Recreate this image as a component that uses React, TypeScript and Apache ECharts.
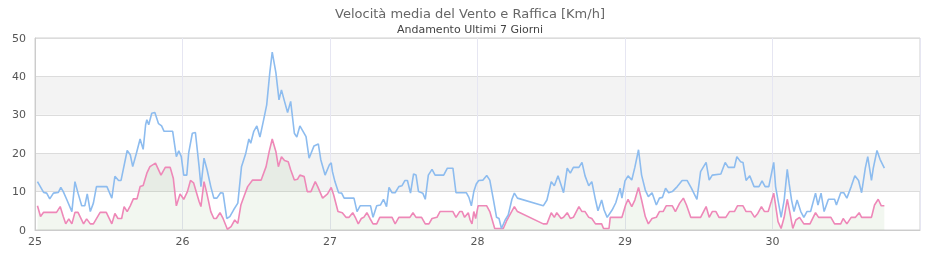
import React, { useEffect, useRef } from "react";
import * as echarts from "echarts";

// Hours elapsed since day 25, 00:00 and values in Km/h
const dayLabels = ["25", "26", "27", "28", "29", "30", "31"];

const gustHours = [
  0.4, 1.4, 1.9, 2.4, 3, 3.8, 4.2, 4.6, 5.2, 6, 6.5, 7, 7.6, 8.1, 8.5, 9, 9.5, 10, 11.7, 12.5, 13, 13.6, 14, 15, 15.5, 15.9, 16.5, 17.1, 17.6, 18, 18.2, 18.5, 19, 19.5, 20.1, 20.6, 21, 22.4, 23, 23.4, 23.8,
  24.2, 24.7, 25, 25.6, 26.1, 26.7, 27, 27.5, 28, 28.6, 29.1, 29.6, 30.2, 30.6, 31.2, 31.7, 32.3, 33, 33.6, 34.3, 34.8, 35.1, 35.6, 36.1, 36.6, 37.2, 37.7, 38.2, 38.6, 39.2, 39.7, 40.1, 40.6, 41.1, 41.6, 42.2, 42.6, 43.1, 44.1, 44.6, 45.4, 46.1, 46.5, 47.2, 47.9,
  48.2, 48.4, 48.8, 49.4, 49.9, 50.3, 51.9, 52.4, 52.9, 54.6, 55, 55.6, 56.2, 56.7, 57.2, 57.6, 58.1, 58.6, 59.2, 59.7, 60.2, 60.6, 61.1, 61.6, 62, 62.4, 63.1, 63.5, 64, 64.6, 65.1, 66.5, 67.1, 68, 68.5, 70.2, 70.6, 71, 71.4, 71.8,
  72.2, 72.9, 73.5, 74, 74.6, 75.1, 75.5, 75.9, 76.5, 77, 77.6, 78, 78.5, 82.7, 83.3, 84, 84.5, 85.1, 85.6, 86, 86.6, 87.1, 87.6, 88.5, 89, 89.5, 90.1, 90.6, 91.2, 91.6, 92.2, 92.6, 93.1, 93.9, 94.5, 95.2, 95.5,
  96, 96.5, 97.1, 97.6, 98.2, 98.7, 99.3, 99.8, 100.4, 101.1, 101.6, 102.1, 102.6, 103.1, 103.7, 104.5, 105.3, 106.1, 106.8, 107.7, 108.3, 109.2, 109.7, 110.2, 111.6, 112.3, 112.8, 113.8, 114.2, 114.8, 115.2, 115.7, 116.3, 117, 117.8, 118.3, 118.8, 119.4,
  120.2, 120.5, 120.9, 121.4, 121.9, 122.4, 122.7, 123.1, 123.5, 124, 124.6, 125.1, 125.6, 126.2, 127, 127.4, 127.9, 128.4, 129.1, 130.1, 130.4, 131.1, 131.6, 132.1, 132.8, 133.4, 134, 134.5, 135.1, 135.5, 136.1, 136.4, 137, 137.5, 138.2,
];
const gustValues = [
  12.6, 9.8, 9.6, 8.1, 9.6, 9.8, 11.1, 10, 7.8, 4.8, 12.6, 9.6, 6.3, 6.3, 9.4, 4.8, 7, 11.3, 11.3, 8.3, 14, 12.9, 12.9, 20.7, 19.6, 16.5, 20, 23.7, 21, 27.4, 28.7, 27.4, 30.4, 30.6, 27.7, 27.1, 25.7, 25.7, 19.1, 20.6, 19.1,
  14.3, 14.3, 20, 25.2, 25.4, 16.5, 11.3, 18.7, 15.7, 11.3, 8.3, 8.3, 9.7, 9.6, 3, 3.5, 5.2, 7, 16.5, 20, 23.7, 22.6, 25.7, 27.1, 24.2, 28.7, 32.6, 40.9, 46.3, 40.9, 33.9, 36.5, 33.5, 30.6, 33.5, 25.2, 24.2, 27.1, 24.3, 18.7, 21.9, 22.4, 18.3, 14.3, 17,
  17.5, 15.2, 12.6, 9.7, 9.6, 8.3, 8.3, 4.8, 6.3, 6.3, 3.3, 6.3, 6.5, 8, 6.1, 11.1, 9.7, 9.7, 11.3, 11.5, 12.9, 12.9, 9.6, 14.6, 14.3, 10, 9.6, 8, 14.3, 15.8, 14.3, 14.3, 16.1, 16.1, 9.7, 9.7, 8.5, 6.3, 10, 12,
  12.9, 13, 14.2, 13, 7.8, 3.3, 3, 0.4, 2.6, 3.9, 8, 9.6, 8.3, 6.3, 7.8, 12.6, 11.5, 14.1, 11.7, 9.7, 16.1, 14.8, 16.3, 16.3, 17.6, 14.1, 11.5, 12.6, 7.8, 5, 7.8, 5.2, 3.3, 5.2, 7.1, 10.9, 8.3,
  12.8, 14.1, 13, 16.3, 20.9, 14.3, 10.4, 8.7, 9.7, 6.5, 8.3, 8.5, 10.9, 9.7, 10, 11.3, 12.9, 12.9, 10.9, 8, 15.2, 17.6, 13, 14.3, 14.6, 17.6, 16.3, 16.3, 19.1, 17.8, 17.6, 12.9, 14.1, 11.3, 11.3, 12.8, 11.3, 11.3,
  17.6, 11.3, 7.7, 3.3, 7.8, 15.8, 12.2, 7.8, 4.8, 7.8, 4.8, 3.3, 4.8, 4.8, 9.6, 6.5, 9.6, 4.8, 8, 8, 6.5, 9.7, 9.7, 8.3, 11.3, 14.1, 12.9, 9.7, 16.1, 19.1, 12.9, 16.1, 20.7, 18.4, 16.1,
];

const avgHours = [
  0.4, 0.9, 1.4, 3.5, 4.1, 4.6, 5, 5.5, 6, 6.5, 7, 7.9, 8.4, 9, 9.5, 10.6, 11.6, 12.5, 13, 13.5, 14.1, 14.5, 15, 15.5, 16, 16.6, 17.1, 17.6, 18.2, 18.7, 19.6, 20.5, 21.2, 22, 22.5, 23, 23.6,
  24.2, 24.8, 25.3, 25.8, 26.7, 27, 27.5, 27.9, 28.6, 29.1, 29.5, 30.1, 30.6, 31.3, 31.9, 32.5, 33, 33.5, 34, 34.6, 35.4, 36.8, 37.6, 38.1, 38.6, 39.2, 39.6, 40.1, 40.6, 41.2, 41.6, 42.2, 42.7, 43.1, 43.8, 44.3, 44.9, 45.6, 46, 46.8, 47.6,
  48.2, 48.6, 49.3, 50, 50.6, 51.1, 51.7, 52.2, 52.6, 53.1, 53.5, 54, 54.5, 55, 55.6, 56.1, 58.1, 58.6, 59.2, 61, 61.5, 62, 62.9, 63.5, 64.1, 64.6, 65.4, 65.9, 68, 68.5, 69.1, 69.5, 69.9, 70.5, 70.8, 71.1, 71.4, 71.7,
  72.1, 73.5, 74, 74.8, 76.2, 76.8, 78, 78.5, 82.7, 83.3, 84, 84.5, 84.9, 85.6, 86, 86.6, 87.1, 87.6, 88.5, 89, 89.5, 90.1, 90.6, 91.2, 92.2, 92.5, 93.4, 93.6, 95.5,
  96.1, 96.5, 97.1, 97.6, 98.2, 98.7, 99.3, 99.8, 100.4, 101.1, 101.6, 102.2, 102.7, 103.7, 104.2, 104.9, 105.5, 106, 106.7, 108.3, 109.2, 109.7, 110.2, 110.8, 111.3, 112.4, 113, 113.8, 114.3, 115.2, 115.7, 116.5, 117.1, 117.6, 118.2, 118.7, 119.3, 119.8,
  120.2, 120.5, 120.9, 121.4, 121.9, 122.4, 122.8, 123.3, 123.8, 124.4, 125.1, 126.1, 127, 127.5, 129.5, 130.1, 131.1, 131.5, 132.1, 132.8, 133.5, 134.1, 134.5, 136.1, 136.6, 137.2, 137.7, 138.2,
];
const avgValues = [
  6.3, 3.5, 4.6, 4.6, 6.1, 3.5, 1.6, 2.9, 1.6, 4.6, 4.6, 1.6, 2.9, 1.6, 1.6, 4.6, 4.6, 1.6, 4.3, 3, 3, 6.1, 4.8, 6.3, 8.1, 8.1, 11.3, 11.6, 14.8, 16.5, 17.4, 14.3, 16.3, 16.3, 13.5, 6.3, 9.4,
  8, 10, 12.9, 12.3, 7.4, 6.1, 12.6, 10, 4.8, 3, 3, 4.5, 3, 0.2, 0.9, 2.6, 1.7, 6.5, 8.7, 11.3, 13, 13, 16.5, 20.4, 23.7, 20.4, 16.5, 19.1, 18.1, 17.8, 15.7, 13, 13.2, 14.3, 13.9, 10, 10, 12.6, 11.3, 8.3, 9.4,
  11.1, 9.1, 4.8, 4.5, 3.3, 3.3, 4.5, 3, 1.6, 3, 3.3, 4.5, 3, 1.6, 1.6, 3.3, 3.3, 1.6, 3.3, 3.3, 4.5, 3.3, 3.3, 1.6, 1.6, 3, 3.3, 4.8, 4.8, 3.3, 4.8, 4.8, 3.3, 4.5, 2.6, 1.6, 4.8, 3,
  6.3, 6.3, 4.8, 0.4, 0.4, 2.6, 6.1, 4.8, 1.6, 1.6, 4.5, 3.3, 4.5, 3, 3.3, 4.5, 3, 3.3, 6.1, 4.8, 4.8, 3.3, 3, 1.6, 1.6, 0.4, 0.4, 3.3, 3.3,
  6.5, 8, 6.1, 7.8, 11.1, 7.8, 3.5, 1.6, 3, 3.3, 4.8, 4.8, 6.3, 6.3, 4.8, 7, 8.3, 6.5, 3.3, 3.3, 6.1, 3.3, 4.8, 4.8, 3.3, 3.3, 4.8, 4.8, 6.3, 6.3, 4.8, 4.8, 3.3, 4.3, 6.1, 4.8, 4.8, 7.4,
  9.6, 6.5, 2.2, 0.4, 3.3, 8, 4.8, 0.4, 2.6, 3.3, 1.6, 1.6, 4.5, 3.3, 3.3, 1.6, 1.6, 3, 1.6, 3.3, 3.3, 4.5, 3.3, 3.3, 6.5, 8, 6.3, 6.3,
];

const titleText = "Velocità media del Vento e Raffica [Km/h]";
const subtitleText = "Andamento Ultimi 7 Giorni";

export default function App() {
  const ref = useRef<HTMLDivElement>(null);
  useEffect(() => {
    if (!ref.current) return;
    const chart = echarts.init(ref.current, undefined, { renderer: "svg" });
    const gust = gustHours.map((h, i) => [h, gustValues[i]]);
    const avg = avgHours.map((h, i) => [h, avgValues[i]]);
    const font = "DejaVu Sans, sans-serif";
    chart.setOption({
      animation: false,
      title: {
        left: "center",
        top: 2,
        text: titleText,
        subtext: subtitleText,
        itemGap: 4,
        textStyle: { fontFamily: font, fontSize: 13, fontWeight: "normal", color: "#666" },
        subtextStyle: { fontFamily: font, fontSize: 11, color: "#444" },
      },
      grid: {
        left: 35,
        right: 20,
        top: 38,
        bottom: 30,
        show: true,
        borderColor: "#d0d0d0",
        borderWidth: 1,
        backgroundColor: "transparent",
      },
      xAxis: {
        type: "value",
        min: 0,
        max: 144,
        interval: 24,
        axisLine: { show: true, lineStyle: { color: "#ccc" } },
        axisTick: { show: false },
        splitLine: { show: true, lineStyle: { color: "#e6e6f2", width: 1 } },
        axisLabel: {
          fontFamily: font,
          fontSize: 11,
          color: "#555",
          margin: 6,
          showMaxLabel: false,
          formatter: (v: number) => dayLabels[Math.round(v / 24)],
        },
      },
      yAxis: {
        type: "value",
        min: 0,
        max: 50,
        interval: 10,
        axisLine: { show: true, lineStyle: { color: "#ccc" } },
        axisTick: { show: false },
        splitLine: { show: true, lineStyle: { color: "#dcdcdc", width: 1 } },
        splitArea: { show: true, areaStyle: { color: ["rgba(255,255,255,0)", "#f3f3f3"] } },
        axisLabel: { fontFamily: font, fontSize: 11, color: "#555", margin: 9 },
      },
      series: [
        {
          type: "line",
          data: avg,
          showSymbol: false,
          symbol: "none",
          lineStyle: { color: "#ee88b8", width: 1.6 },
          areaStyle: { color: "rgba(120,170,100,0.14)" },
          z: 2,
        },
        {
          type: "line",
          data: gust,
          showSymbol: false,
          symbol: "none",
          lineStyle: { color: "#8dbcef", width: 1.6 },
          z: 3,
        },
      ],
    });
    return () => chart.dispose();
  }, []);
  return <div ref={ref} style={{ position: "fixed", left: 0, top: 0, width: 940, height: 260 }} />;
}
